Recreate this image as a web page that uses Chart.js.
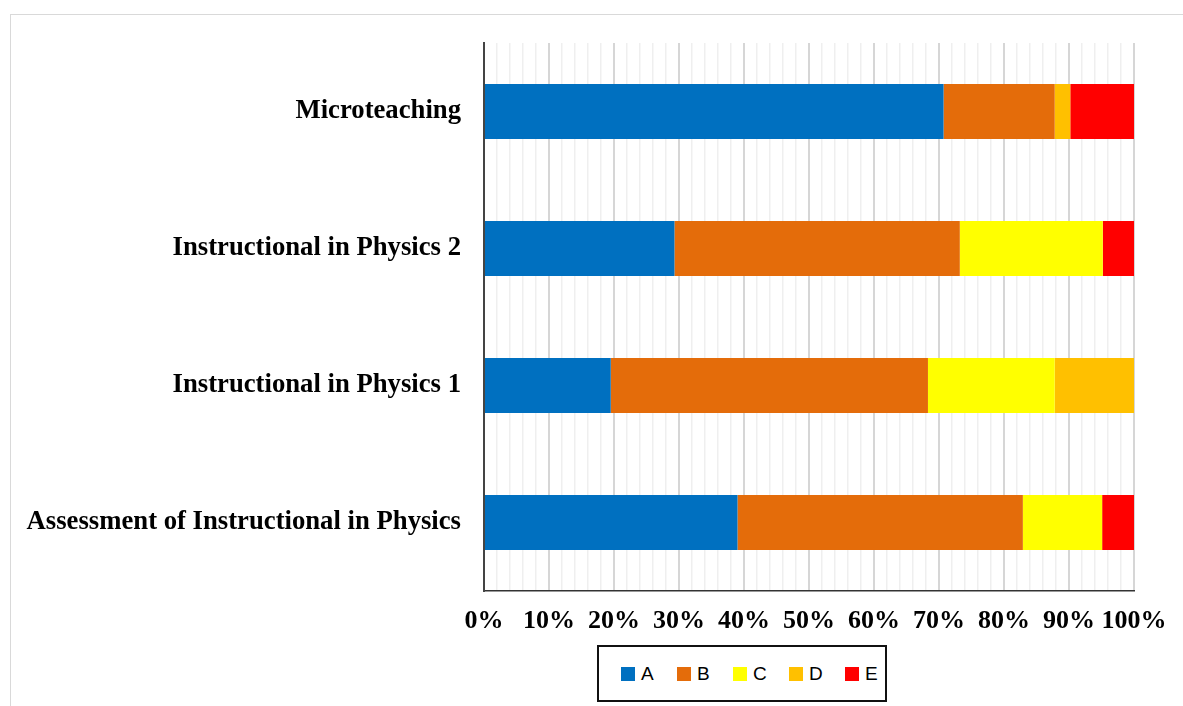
<!DOCTYPE html>
<html lang="en">
<head>
    <meta charset="UTF-8">
    <title>Course grades</title>
    <script src="https://cdn.jsdelivr.net/npm/chart.js"></script>
    <style>
        body {
            margin: 0;
            padding: 0;
            background: #ffffff;
            overflow: hidden;
        }

        .frame {
            position: absolute;
            left: 10px;
            top: 14px;
            width: 1200px;
            height: 720px;
            border: 1px solid #d9d9d9;
        }

        .chart-box {
            position: absolute;
            left: 0;
            top: 0;
            width: 1183px;
            height: 706px;
        }

        #legend {
            position: absolute;
            left: 597px;
            top: 645px;
            width: 290px;
            height: 57px;
            border: 2px solid #111;
            background: #fff;
            display: flex;
            align-items: center;
            padding-left: 22px;
            box-sizing: border-box;
            font-family: "Liberation Sans", Arial, sans-serif;
            font-size: 19px;
            color: #000;
        }

        #legend .item {
            display: flex;
            align-items: center;
            width: 56px;
            flex: none;
        }

        #legend .swatch {
            width: 14px;
            height: 14px;
            margin-right: 6px;
        }
    </style>
</head>
<body>
    <div class="frame"></div>
    <div class="chart-box">
        <canvas id="gradeChart"></canvas>
    </div>
    <div id="legend"></div>

    <script>
        const categories = [
            'Microteaching',
            'Instructional in Physics 2',
            'Instructional in Physics 1',
            'Assessment of Instructional in Physics'
        ];
        const seriesNames = ['A', 'B', 'C', 'D', 'E'];
        const valuesA = [70.7, 29.3, 19.5, 39.0];
        const valuesB = [17.1, 43.9, 48.8, 43.9];
        const valuesC = [0, 22.0, 19.5, 12.2];
        const valuesD = [2.4, 0, 12.2, 0];
        const valuesE = [9.8, 4.9, 0, 4.9];
        const tickLabels = ['0%', '10%', '20%', '30%', '40%', '50%', '60%', '70%', '80%', '90%', '100%'];
        const seriesColors = ['#0070c0', '#e46c0a', '#ffff00', '#ffc000', '#ff0000'];

        const allValues = [valuesA, valuesB, valuesC, valuesD, valuesE];
        const labelFont = { family: '"Liberation Serif", "Times New Roman", serif', size: 26.7, weight: 'bold' };

        const ctx = document.getElementById('gradeChart').getContext('2d');
        const chart = new Chart(ctx, {
            type: 'bar',
            data: {
                labels: categories,
                datasets: seriesNames.map((name, i) => ({
                    label: name,
                    data: allValues[i],
                    backgroundColor: seriesColors[i],
                    borderWidth: 0,
                    barPercentage: 0.4,
                    categoryPercentage: 1.0
                }))
            },
            options: {
                indexAxis: 'y',
                responsive: true,
                maintainAspectRatio: false,
                animation: false,
                layout: {
                    padding: { top: 43, right: 49, left: 0, bottom: 0 }
                },
                plugins: {
                    legend: { display: false },
                    tooltip: { enabled: true }
                },
                scales: {
                    x: {
                        type: 'linear',
                        stacked: true,
                        min: 0,
                        max: 100,
                        afterFit: function (scale) {
                            scale.height = 115;
                        },
                        ticks: {
                            stepSize: 2,
                            autoSkip: false,
                            maxRotation: 0,
                            minRotation: 0,
                            padding: 15,
                            color: '#000',
                            font: { family: labelFont.family, size: 26, weight: 'bold' },
                            callback: function (v) {
                                return v % 10 === 0 ? tickLabels[v / 10] : '';
                            }
                        },
                        grid: {
                            drawTicks: false,
                            color: c => (c.tick && c.tick.value % 10 === 0) ? '#d6d6d6' : '#efefef',
                            lineWidth: c => (c.tick && c.tick.value % 10 === 0) ? 2 : 1.5
                        },
                        border: { display: true, color: '#333', width: 1.5 }
                    },
                    y: {
                        stacked: true,
                        afterFit: function (scale) {
                            scale.width = 484;
                        },
                        ticks: {
                            padding: 23,
                            color: '#000',
                            font: labelFont
                        },
                        grid: { display: false, drawTicks: false },
                        border: { display: true, color: '#444', width: 2 }
                    }
                }
            }
        });

        // legend built from the chart's datasets
        const legendDiv = document.getElementById('legend');
        chart.data.datasets.forEach(ds => {
            const item = document.createElement('div');
            item.className = 'item';
            item.innerHTML = `<span class="swatch" style="background:${ds.backgroundColor}"></span><span>${ds.label}</span>`;
            legendDiv.appendChild(item);
        });
    </script>
</body>
</html>
